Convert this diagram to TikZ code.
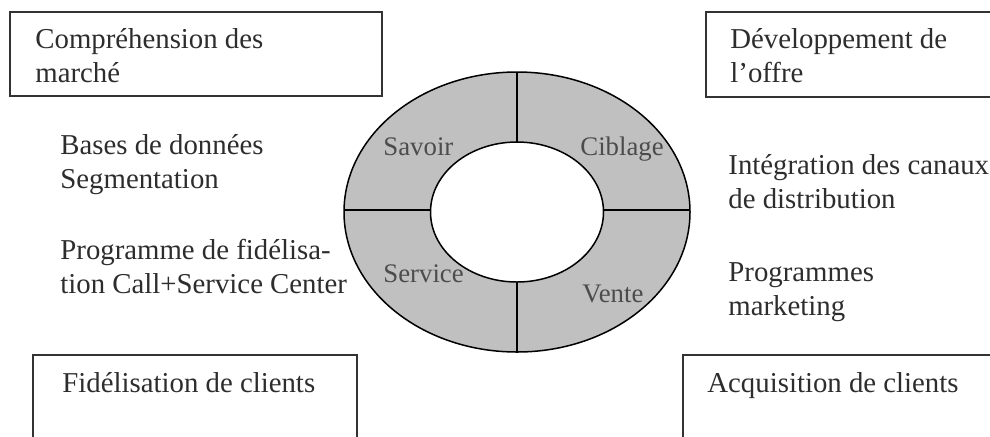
\documentclass[tikz,border=0pt]{standalone}
\usepackage{fontspec}
\setmainfont{Liberation Serif}
\usepackage{tikz}
\usepackage{xcolor}
\usetikzlibrary{positioning}

\definecolor{ringgray}{RGB}{192,192,192}
\definecolor{inkgray}{RGB}{45,45,45}

\tikzset{
    box/.style={draw=black!80, line width=1pt},
    txt/.style={anchor=base west, inner sep=0pt, align=left, text=inkgray,
        font=\fontsize{14.4}{17}\selectfont},
    ringtxt/.style={anchor=base west, inner sep=0pt, text=black!70,
        font=\fontsize{13.4}{16}\selectfont}
}

\begin{document}
\begin{tikzpicture}[x=0.5pt, y=-0.5pt]
    \useasboundingbox (0,0) rectangle (990,436);
    \clip (0,0) rectangle (990,436);

    % Four boxes in the corners
    \draw[box] (10,12) rectangle (382,96);
    \draw[box] (706,12) rectangle (1010,97);
    \draw[box] (33,355) rectangle (357,460);
    \draw[box] (683,355) rectangle (1010,460);

    % (base of a two-line node = its last line)
    \node[txt] (comprehension) at (35,82) {Compréhension des\\marché};
    \node[txt] (developpement) at (730,82) {Développement de\\l’offre};
    \node[txt] (fidelisation) at (62,392) {Fidélisation de clients};
    \node[txt] (acquisition) at (707,392) {Acquisition de clients};

    % Ring - gray band with a white hole
    \fill[ringgray, even odd rule] (517,212) ellipse [x radius=173, y radius=140]
        (517,212) ellipse [x radius=86.5, y radius=70];
    \draw[line width=0.75pt] (517,212) ellipse [x radius=173, y radius=140];
    \draw[line width=0.75pt] (517,212) ellipse [x radius=86.5, y radius=70];
    \draw[line width=0.75pt] (517,72) -- (517,142);
    \draw[line width=0.75pt] (517,282) -- (517,352);
    \draw[line width=0.75pt] (344,210) -- (431,210);
    \draw[line width=0.75pt] (604,210) -- (690,210);

    \node[ringtxt] (savoir) at (383,155) {Savoir};
    \node[ringtxt] (ciblage) at (580,155) {Ciblage};
    \node[ringtxt] (service) at (383,282) {Service};
    \node[ringtxt] (vente) at (582,302) {Vente};

    % Texts beside the ring
    \node[txt] (bases) at (60,188) {Bases de données\\Segmentation};
    \node[txt] (programme) at (60,293) {Programme de fidélisa-\\tion Call+Service Center};
    \node[txt] (integration) at (728,208) {Intégration des canaux\\de distribution};
    \node[txt] (marketing) at (728,315) {Programmes\\marketing};
\end{tikzpicture}
\end{document}
